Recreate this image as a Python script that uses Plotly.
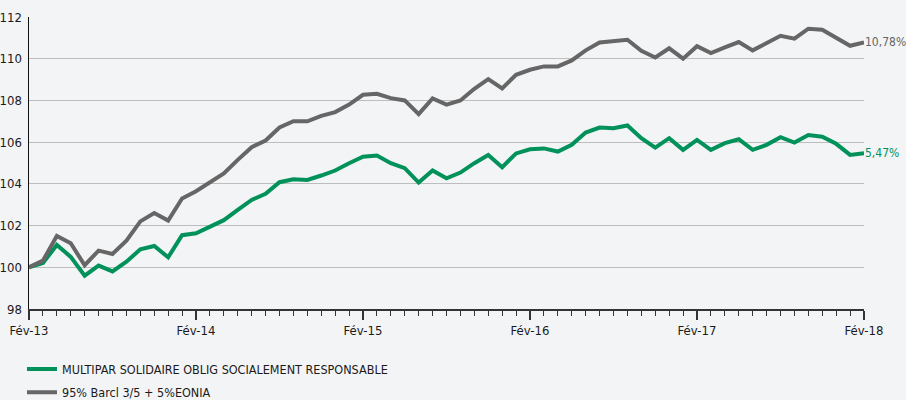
import plotly.graph_objects as go

months = list(range(61))
tick_vals = [0, 12, 24, 36, 48, 60]
tick_labels = ["Fév-13", "Fév-14", "Fév-15", "Fév-16", "Fév-17", "Fév-18"]

fund = [100.0, 100.2, 101.07, 100.5, 99.6, 100.08, 99.8, 100.27, 100.86, 101.02,
        100.48, 101.54, 101.63, 101.95, 102.26, 102.75, 103.23, 103.52, 104.08, 104.22,
        104.19, 104.4, 104.64, 104.99, 105.3, 105.36, 104.99, 104.75, 104.06, 104.64,
        104.27, 104.54, 104.99, 105.38, 104.8, 105.46, 105.66, 105.7, 105.55, 105.87,
        106.46, 106.7, 106.67, 106.8, 106.19, 105.74, 106.19, 105.63, 106.11, 105.63,
        105.95, 106.14, 105.63, 105.87, 106.24, 105.98, 106.34, 106.26, 105.92, 105.39,
        105.47]

bench = [100.0, 100.32, 101.5, 101.15, 100.1, 100.8, 100.64, 101.28, 102.2, 102.6,
         102.24, 103.3, 103.65, 104.1, 104.5, 105.15, 105.76, 106.08, 106.7, 107.0,
         107.0, 107.26, 107.44, 107.8, 108.27, 108.32, 108.11, 108.0, 107.34, 108.1,
         107.8, 108.0, 108.56, 109.02, 108.58, 109.23, 109.47, 109.63, 109.63, 109.92,
         110.4, 110.78, 110.83, 110.91, 110.38, 110.06, 110.5, 110.0, 110.6, 110.27,
         110.54, 110.8, 110.4, 110.75, 111.1, 110.96, 111.44, 111.39, 110.99, 110.62,
         110.78]

names = ["MULTIPAR SOLIDAIRE OBLIG SOCIALEMENT RESPONSABLE", "95% Barcl 3/5 + 5%EONIA"]
end_labels = ["5,47%", "10,78%"]
colors = ["#00925a", "#666666"]

FONT = "DejaVu Sans Condensed, Liberation Sans Narrow, sans-serif"
BG = "#f3f4f6"

fig = go.Figure()
for i, (name, vals, col) in enumerate(zip(names, [fund, bench], colors)):
    fig.add_trace(go.Scatter(x=months, y=vals, mode="lines", name=name,
                             legendgroup="g%d" % i,
                             line=dict(color=col, width=4), hoverinfo="skip"))

for vals, lab, col in zip([fund, bench], end_labels, colors):
    fig.add_annotation(x=months[-1], y=vals[-1], text=lab, showarrow=False,
                       xanchor="left", yanchor="middle", xshift=-1,
                       font=dict(family=FONT, size=12, color=col))

fig.update_layout(
    width=906, height=400,
    margin=dict(l=29, r=42, t=17, b=91, autoexpand=False),
    paper_bgcolor=BG, plot_bgcolor=BG,
    font=dict(family=FONT, size=13, color="#1a1a1a"),
    showlegend=True,
    legend=dict(x=-0.0084, y=-0.155, xanchor="left", yanchor="top",
                orientation="v", bgcolor="rgba(0,0,0,0)",
                font=dict(family=FONT, size=12.5, color="#1a1a1a"),
                itemwidth=30, tracegroupgap=4),
    xaxis=dict(range=[0, 60], tickvals=tick_vals, ticktext=tick_labels,
               automargin=False,
               showgrid=False, zeroline=False,
               showline=True, linecolor="#333333", linewidth=1.5,
               ticks="outside", ticklen=9, tickwidth=1.5, tickcolor="#333333",
               minor=dict(dtick=1, tick0=0, ticks="outside", ticklen=5,
                          tickwidth=1, tickcolor="#333333", showgrid=False),
               tickfont=dict(family=FONT, size=13, color="#1a1a1a")),
    yaxis=dict(range=[98, 112], dtick=2, tick0=98, automargin=False,
               showgrid=True, gridcolor="#bdbdbd", gridwidth=1,
               zeroline=False, showline=True, linecolor="#111111", linewidth=1.5,
               ticks="", ticklabelstandoff=3,
               tickfont=dict(family=FONT, size=13, color="#1a1a1a")),
)

fig.write_html("out.html",
               config={"displayModeBar": False, "staticPlot": True},
               post_script="document.body.style.margin='0';"
                           "document.body.style.background='#f3f4f6';")
